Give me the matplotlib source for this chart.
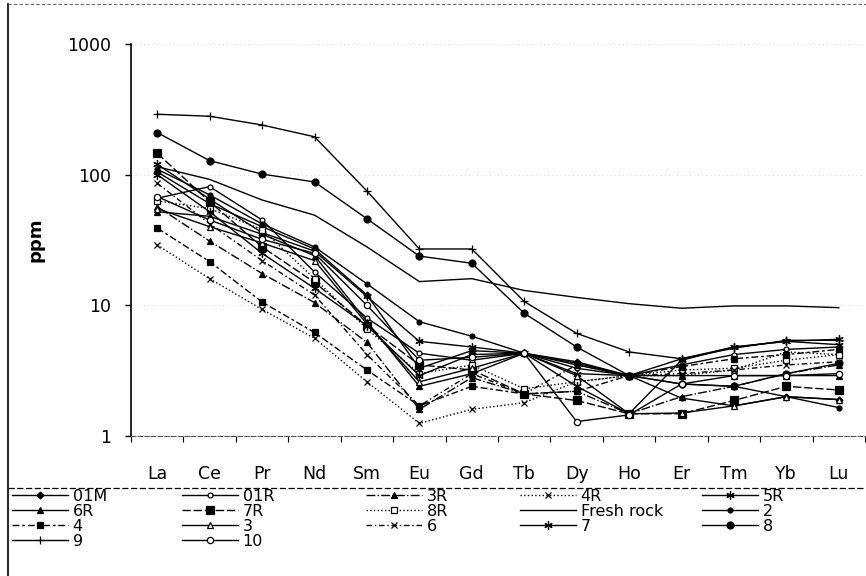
import matplotlib
matplotlib.use("Agg")
import matplotlib.pyplot as plt
from matplotlib.lines import Line2D

plt.rcParams['font.family'] = ['DejaVu Sans']

elements = ["La", "Ce", "Pr", "Nd", "Sm", "Eu", "Gd", "Tb", "Dy", "Ho", "Er", "Tm", "Yb", "Lu"]

# REE contents (ppm)
s_01M = [105, 60, 40, 27, 12, 3.3, 4.5, 4.3, 3.7, 2.9, 2.5, 2.4, 2.0, 1.9]
s_01R = [66, 81, 45, 18, 8.0, 4.3, 3.8, 4.3, 3.3, 2.9, 3.5, 4.2, 4.6, 4.8]
s_3R = [57, 31, 17.5, 10.5, 5.2, 1.6, 2.8, 2.1, 2.2, 1.48, 2.0, 2.4, 3.0, 3.5]
s_4R = [29, 16, 9.3, 5.6, 2.6, 1.25, 1.6, 1.8, 2.6, 2.9, 2.9, 3.2, 4.4, 4.2]
s_5R = [120, 65, 36, 26, 11.7, 5.3, 4.8, 4.3, 3.0, 2.9, 3.9, 4.8, 5.3, 5.0]
s_6R = [52, 48, 35, 24, 7.5, 2.4, 3.0, 4.3, 3.5, 2.9, 2.9, 2.9, 2.9, 2.9]
s_7R = [146, 62, 28, 15, 7.0, 3.5, 3.2, 2.1, 1.87, 1.48, 1.48, 1.87, 2.4, 2.25]
s_8R = [63, 55, 38, 16, 6.6, 3.0, 3.5, 2.3, 2.6, 2.9, 3.2, 3.3, 3.8, 4.2]
s_fresh = [115, 92, 64, 49, 28, 15.2, 16, 13, 11.5, 10.3, 9.5, 9.9, 9.9, 9.6]
s_2 = [110, 70, 42, 28, 14.6, 7.5, 5.8, 4.3, 3.6, 2.9, 1.95, 1.7, 2.0, 1.65]
s_4 = [39, 21.6, 10.6, 6.2, 3.2, 1.7, 2.4, 2.1, 2.2, 2.9, 3.4, 3.9, 4.2, 4.6]
s_3 = [55, 40, 30, 22, 7.2, 2.6, 3.3, 4.3, 2.9, 1.48, 1.5, 1.7, 2.0, 1.9]
s_6 = [86, 42, 22, 12, 4.2, 1.7, 3.0, 2.1, 3.5, 2.9, 3.0, 3.2, 3.5, 3.7]
s_7 = [100, 52, 25, 13.5, 7.0, 2.9, 4.2, 4.3, 2.4, 1.48, 3.8, 4.8, 5.3, 5.5]
s_8 = [210, 128, 101, 88, 46, 23.8, 21, 8.7, 4.8, 2.9, 2.5, 2.4, 3.0, 3.6]
s_9 = [290, 280, 240, 195, 75, 27, 27, 10.7, 6.1, 4.4, 3.9, 4.7, 5.4, 5.4]
s_10 = [68, 45, 32, 25, 10, 3.8, 4.0, 4.3, 1.29, 1.45, 2.5, 2.9, 2.9, 3.0]

labels = ["01M", "01R", "3R", "4R", "5R", "6R", "7R", "8R", "Fresh rock", "2",
          "4", "3", "6", "7", "8", "9", "10"]
series = [s_01M, s_01R, s_3R, s_4R, s_5R, s_6R, s_7R, s_8R, s_fresh, s_2,
          s_4, s_3, s_6, s_7, s_8, s_9, s_10]
# (linestyle, marker, marker size, filled)
styles = [
    ("-", "D", 3.5, True),
    ("-", "o", 3.5, False),
    ("-.", "^", 4, True),
    (":", "x", 4.5, True),
    ("-", (6, 2, 0), 6, True),
    ("-", "^", 4, True),
    ((0, (6, 2)), "s", 5.5, True),
    (":", "s", 4, False),
    ("-", "", 0, True),
    ("-", "o", 3.5, True),
    ((0, (5, 2, 2, 2)), "s", 4.5, True),
    ("-", "^", 4, False),
    ((0, (4, 2, 1, 2)), "x", 4.5, True),
    ("-", (6, 2, 0), 6, True),
    ("-", "o", 5, True),
    ("-", "+", 6, True),
    ("-", "o", 4.5, False),
]

fig = plt.figure(figsize=(8.66, 5.76), dpi=100)
ax = fig.add_axes([131 / 866, 1 - 436 / 576, 734 / 866, (436 - 44) / 576])

x = list(range(len(elements)))
handles = []
for lab, ys, (ls, mk, ms, filled) in zip(labels, series, styles):
    h, = ax.plot(x, ys, color="black", lw=1.0, linestyle=ls, marker=mk if mk else None,
                 markersize=ms, markerfacecolor="black" if filled else "white",
                 markeredgecolor="black", markeredgewidth=0.9, label=lab)
    handles.append(h)

ax.set_yscale("log")
ax.set_ylim(1, 1000)
ax.set_xlim(-0.5, len(elements) - 0.5)
ax.set_yticks([1, 10, 100, 1000])
ax.set_yticklabels(["1", "10", "100", "1000"])
ax.yaxis.set_minor_locator(matplotlib.ticker.NullLocator())
ax.set_xticks(x)
ax.set_xticklabels(elements)
ax.set_xticks([i - 0.5 for i in range(len(elements) + 1)], minor=True)
ax.tick_params(axis="x", which="major", length=0, pad=21, labelsize=12.5)
ax.tick_params(axis="x", which="minor", length=4, width=0.8, direction="out")
ax.tick_params(axis="y", which="major", length=4.5, width=1, direction="out", pad=10, labelsize=12.5)
ax.grid(axis="y", which="major", linestyle=(0, (1, 4)), color="#c8c8c8", lw=0.6)

ax.spines["top"].set_visible(False)
ax.spines["right"].set_visible(False)
ax.spines["left"].set_linewidth(1.2)
ax.spines["bottom"].set_linestyle((0, (4, 2)))
ax.spines["bottom"].set_color("#555555")
ax.spines["bottom"].set_linewidth(0.8)

fig.text(35 / 866, 1 - 240 / 576, "ppm", rotation=90, ha="center", va="center",
         fontsize=13, fontweight="bold")

# chart area and legend borders
fig.add_artist(Line2D([8 / 866, 8 / 866], [0, 1 - 4 / 576], color="black", lw=1.2))
fig.add_artist(Line2D([8 / 866, 1], [1 - 4 / 576, 1 - 4 / 576], color="#666666", lw=0.8,
                      linestyle=(0, (3, 2))))
fig.add_artist(Line2D([8 / 866, 1], [1 - 488 / 576, 1 - 488 / 576], color="black", lw=0.9,
                      linestyle=(0, (5, 2))))

# legend: five columns, filled row by row
col_x = [12, 182, 366, 520, 702]
for c in range(5):
    hs = handles[c::5]
    leg = fig.legend(handles=hs, labels=[h.get_label() for h in hs], loc="upper left",
                     bbox_to_anchor=(col_x[c] / 866, 1 - 489 / 576), frameon=False,
                     fontsize=11.5, handlelength=3.5, handletextpad=0.3,
                     labelspacing=0.0, borderpad=0, borderaxespad=0)

fig.savefig("out.png", dpi=100)
